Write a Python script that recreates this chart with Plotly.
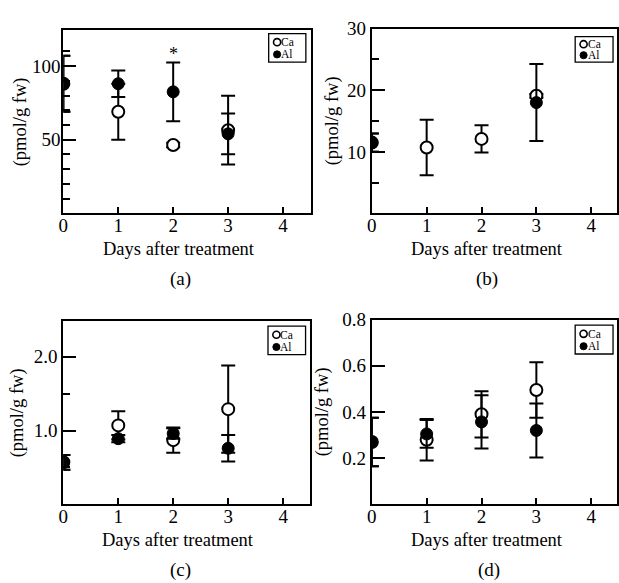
import plotly.graph_objects as go

W, H = 619, 583
FONT = "Liberation Serif"

days = [0, 1, 2, 3]
x_ticks = [0, 1, 2, 3, 4]

# Panel (a)
a_ca = [88, 69, 46.4, 56.5]
a_ca_err = [19, 19, 1.5, 23.3]
a_al = [88, 88, 82.5, 54]
a_al_err = [19, 9, 20, 13.9]

# Panel (b)
b_ca = [11.5, 10.7, 12.1, 19.1]
b_ca_err = [1.5, 4.5, 2.2, 0.3]
b_al = [11.5, None, None, 18.0]
b_al_err = [1.5, 0, 0, 6.25]

# Panel (c)
c_ca = [0.57, 1.07, 0.87, 1.29]
c_ca_err = [0.1, 0.19, 0.17, 0.59]
c_al = [0.57, 0.89, 0.96, 0.76]
c_al_err = [0.1, 0.05, 0.07, 0.18]

# Panel (d)
d_ca = [0.27, 0.28, 0.39, 0.495]
d_ca_err = [0.105, 0.09, 0.1, 0.12]
d_al = [0.27, 0.305, 0.357, 0.32]
d_al_err = [0.105, 0.06, 0.115, 0.117]

y_title = "(pmol/g fw)"
x_title = "Days after treatment"
series_names = ["Ca", "Al"]

panels = [
    dict(ca=a_ca, cae=a_ca_err, al=a_al, ale=a_al_err, label="(a)",
         yrange=[0, 124.7], ytv=[50, 100], ytt=["50", "100"],
         yminor=[10, 20, 30, 40, 60, 70, 80, 90, 110],
         px=(59, 309), py=(20, 207), xmax=4.5, ystand=-3,
         leg=(266.7, 24, 304.3, 53), ytx=16, lab=(178, 274), xt=176),
    dict(ca=b_ca, cae=b_ca_err, al=b_al, ale=b_al_err, label="(b)",
         yrange=[0, 30], ytv=[10, 20, 30], ytt=["10", "20", "30"],
         yminor=[5, 15, 25],
         px=(371, 619), py=(19, 207), xmax=4.47, ystand=0,
         leg=(576.7, 27, 615, 53), ytx=331, lab=(488, 274), xt=488),
    dict(ca=c_ca, cae=c_ca_err, al=c_al, ale=c_al_err, label="(c)",
         yrange=[0, 2.49], ytv=[1, 2], ytt=["1.0", "2.0"],
         yminor=[0.5, 1.5],
         px=(59, 308), py=(316, 503), xmax=4.48, ystand=0,
         leg=(266, 321.7, 304, 350.7), ytx=13, lab=(178, 570), xt=175),
    dict(ca=d_ca, cae=d_ca_err, al=d_al, ale=d_al_err, label="(d)",
         yrange=[0, 0.8], ytv=[0.2, 0.4, 0.6, 0.8], ytt=["0.2", "0.4", "0.6", "0.8"],
         yminor=[],
         px=(371, 619), py=(315, 503), xmax=4.47, ystand=0,
         leg=(576.7, 320.7, 615, 350), ytx=322, lab=(490, 570), xt=488),
]

def fx(p):
    return p / W

def fy(p):
    return 1 - p / H

fig = go.Figure()
shapes = []
annotations = []

for i, p in enumerate(panels):
    n = "" if i == 0 else str(i + 1)
    xa, ya = "x" + n, "y" + n
    # Ca (open circles)
    fig.add_trace(go.Scatter(
        x=days, y=p["ca"], xaxis=xa, yaxis=ya, mode="markers", name=series_names[0],
        showlegend=False,
        marker=dict(symbol="circle", size=12, color="white",
                    line=dict(color="black", width=2)),
        error_y=dict(type="data", array=p["cae"], symmetric=True,
                     color="black", thickness=2, width=7),
    ))
    # Al (filled circles)
    fig.add_trace(go.Scatter(
        x=days, y=p["al"], xaxis=xa, yaxis=ya, mode="markers", name=series_names[1],
        showlegend=False,
        marker=dict(symbol="circle", size=12, color="black",
                    line=dict(color="black", width=1)),
        error_y=dict(type="data", array=p["ale"], symmetric=True,
                     color="black", thickness=2, width=7),
    ))

    fig.layout["xaxis" + n] = dict(
        domain=[fx(p["px"][0]), fx(p["px"][1])], anchor=ya,
        range=[0, p["xmax"]], tickvals=x_ticks, ticks="inside", ticklen=6,
        tickwidth=2, tickcolor="black", showline=True, linewidth=2,
        linecolor="black", mirror=True, showgrid=False, zeroline=False,
        tickfont=dict(family=FONT, size=19, color="black"),
        ticklabelstandoff=-6,
    )
    fig.layout["yaxis" + n] = dict(
        domain=[fy(p["py"][1]), fy(p["py"][0])], anchor=xa,
        range=p["yrange"], tickvals=p["ytv"], ticktext=p["ytt"],
        ticks="inside", ticklen=13, tickwidth=2, tickcolor="black",
        showline=True, linewidth=2, linecolor="black", mirror=True,
        showgrid=False, zeroline=False,
        tickfont=dict(family=FONT, size=19, color="black"),
        ticklabelstandoff=p["ystand"],
        minor=dict(tickvals=p["yminor"], ticks="inside", ticklen=7,
                   tickwidth=2, tickcolor="black", showgrid=False),
    )

    # axis titles
    annotations.append(dict(
        text=y_title, textangle=-90, x=fx(p["ytx"]),
        y=fy((p["py"][0] + p["py"][1]) / 2), xref="paper", yref="paper",
        showarrow=False, font=dict(family=FONT, size=18.5, color="black"),
        xanchor="center", yanchor="middle"))
    annotations.append(dict(
        text=x_title, x=fx(p["xt"]),
        y=fy(p["py"][1] + 36), xref="paper", yref="paper",
        showarrow=False, font=dict(family=FONT, size=18.5, color="black"),
        xanchor="center", yanchor="middle"))
    annotations.append(dict(
        text=p["label"], x=fx(p["lab"][0]), y=fy(p["lab"][1]),
        xref="paper", yref="paper", showarrow=False,
        font=dict(family=FONT, size=19, color="black"),
        xanchor="center", yanchor="middle"))

    # legend box
    l, t, r, b = p["leg"]
    shapes.append(dict(type="rect", xref="paper", yref="paper",
                       x0=fx(l), x1=fx(r), y0=fy(b), y1=fy(t),
                       line=dict(color="black", width=1.3), fillcolor="white"))
    cx = l + 8.5
    rows = [t + (b - t) * 0.3, t + (b - t) * 0.73]
    rad = 3.6
    for k, cy in enumerate(rows):
        shapes.append(dict(type="circle", xref="paper", yref="paper",
                           x0=fx(cx - rad), x1=fx(cx + rad),
                           y0=fy(cy + rad), y1=fy(cy - rad),
                           line=dict(color="black", width=1.6 if k == 0 else 1),
                           fillcolor="white" if k == 0 else "black"))
        annotations.append(dict(
            text=series_names[k], x=fx(cx + rad + 0.5), y=fy(cy),
            xref="paper", yref="paper", showarrow=False,
            font=dict(family=FONT, size=11.5, color="black"),
            xanchor="left", yanchor="middle", xshift=-2))

# significance asterisk on panel (a), day 2
annotations.append(dict(text="*", x=2, y=108, xref="x", yref="y",
                        showarrow=False, yanchor="middle",
                        font=dict(family=FONT, size=18, color="black")))

fig.update_layout(
    width=W, height=H, margin=dict(l=0, r=0, t=0, b=0),
    paper_bgcolor="white", plot_bgcolor="white",
    showlegend=False, shapes=shapes, annotations=annotations,
    font=dict(family=FONT, color="black"),
)

post = (
    "document.documentElement.style.margin='0';"
    "document.documentElement.style.padding='0';"
    "document.body.style.margin='0';document.body.style.padding='0';"
    "document.body.style.overflow='hidden';"
    "var gd=document.getElementById('{plot_id}');"
    "gd.style.position='fixed';gd.style.top='0px';gd.style.left='0px';"
)

fig.write_html("out.html", config={"displayModeBar": False}, post_script=post)
